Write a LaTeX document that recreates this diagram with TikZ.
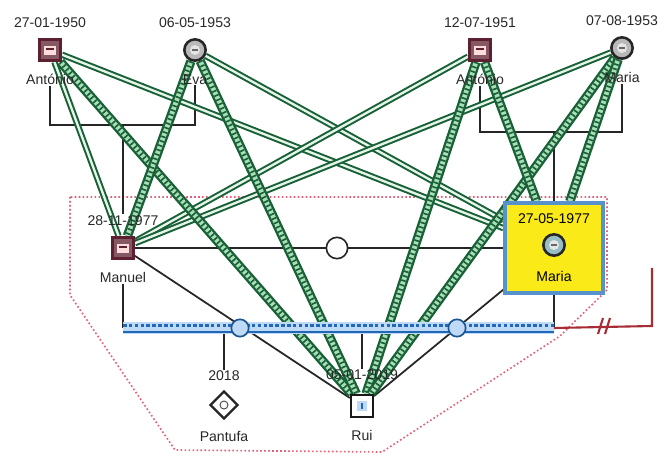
\documentclass[tikz,border=0pt]{standalone}
\usepackage{fontspec}
\setmainfont{Liberation Sans}
\usetikzlibrary{positioning,shapes.geometric,backgrounds}
\definecolor{tiegreen}{RGB}{24,96,54}
\definecolor{tiepale}{RGB}{170,222,184}
\definecolor{famblue}{RGB}{34,104,184}
\definecolor{famlight}{RGB}{190,218,246}
\definecolor{boxblue}{RGB}{86,146,204}
\definecolor{boxyellow}{RGB}{250,234,24}
\definecolor{maroonish}{RGB}{92,32,48}
\definecolor{dotred}{RGB}{226,96,120}
\definecolor{cutred}{RGB}{168,44,52}
\definecolor{txt}{RGB}{40,40,40}

\begin{document}
\begin{tikzpicture}[x=.03cm,y=-.03cm,font=\fontsize{12}{14}\selectfont,text=txt]
\tikzstyle{lbl}=[inner sep=.5pt]
\tikzstyle{male}=[rectangle,draw=maroonish,line width=2.2pt,fill=maroonish!75,minimum size=6.4mm,inner sep=0pt,
  path picture={\fill[pink!55] ([shift={(-1.7mm,-1.4mm)}]path picture bounding box.center) rectangle ++(3.4mm,2.6mm);
  \fill[maroonish] ([shift={(-1.1mm,-.1mm)}]path picture bounding box.center) rectangle ++(2.2mm,.6mm);}]
\tikzstyle{female}=[circle,draw=black!85,line width=2.2pt,fill=gray!55,minimum size=6.4mm,inner sep=0pt,
  path picture={\fill[white!80!gray] (path picture bounding box.center) circle (1.5mm);
  \fill[black!60] ([shift={(-.9mm,-.3mm)}]path picture bounding box.center) rectangle ++(1.8mm,.6mm);}]
\tikzstyle{kid}=[rectangle,draw=black!90,line width=2pt,fill=white,minimum size=6.6mm,inner sep=0pt,
  path picture={\fill[famlight] ([shift={(-1.5mm,-1.5mm)}]path picture bounding box.center) rectangle ++(3mm,3mm);
  \fill[famblue] ([shift={(-.4mm,-1mm)}]path picture bounding box.center) rectangle ++(.8mm,2mm);}]
\tikzstyle{pet}=[diamond,draw=black!85,line width=2pt,fill=white,minimum size=8.4mm,inner sep=0pt,
  path picture={\draw[black!70,line width=.8pt] (path picture bounding box.center) circle (1.2mm);}]
\tikzstyle{hilite}=[rectangle,draw=boxblue,line width=2.6pt,fill=boxyellow,minimum width=29.4mm,minimum height=27mm]
\tikzstyle{knot}=[circle,draw=black!85,line width=1.4pt,fill=white,minimum size=6.4mm,inner sep=0pt]
\tikzstyle{rel}=[draw=black!85,line width=1.5pt]
\tikzstyle{tie}=[draw=tiegreen,line width=5.4pt,postaction={draw=white!70!tiepale,line width=2pt}]
\tikzstyle{hatch}=[draw=tiegreen,line width=8pt,postaction={draw=tiepale,line width=4pt},
  postaction={draw=tiegreen,line width=4pt,dash pattern=on 1.4pt off 2.6pt}]
\tikzstyle{famline}=[draw=famlight,line width=9.5pt,
  postaction={draw=famblue,line width=2.4pt,dash pattern=on 3pt off 2pt,transform canvas={yshift=2pt}},
  postaction={draw=famblue,line width=2.4pt,transform canvas={yshift=-3.4pt}}]
\tikzstyle{cutline}=[draw=cutred,line width=1.8pt]
\tikzstyle{dotline}=[draw=dotred,line width=1.4pt,dotted]
\useasboundingbox (0,0) rectangle (668,457);

% grandparents
\node[male] (ant1) at (50,50) {};
\node[female] (eva) at (195,50) {};
\node[male] (ant2) at (480,50) {};
\node[female] (marg) at (622,48) {};
\node[lbl,above=3mm of ant1] (ant1d) {27-01-1950};
\node[lbl,below=3.5mm of ant1] (ant1n) {António};
\node[lbl,above=3mm of eva] (evad) {06-05-1953};
\node[lbl,below=3.5mm of eva] (evan) {Eva};
\node[lbl,above=3mm of ant2] (ant2d) {12-07-1951};
\node[lbl,below=3.5mm of ant2] (ant2n) {António};
\node[lbl,above=3mm of marg] (margd) {07-08-1953};
\node[lbl,below=3.5mm of marg] (margn) {Maria};

% couple
\node[male] (man) at (123,248) {};
\node[lbl,above=3mm of man] (mand) {28-11-1977};
\node[lbl,below=3.5mm of man] (mann) {Manuel};
\node[hilite] (box) at (554,248) {};
\node[female,fill={rgb,255:red,150;green,190;blue,196}] (mar) at (554,245) {};
\node[lbl,above=2.5mm of mar,text=black] (mard) {27-05-1977};
\node[lbl,below=4mm of mar,text=black] (marn) {Maria};
\node[knot] (k0) at (337,248) {};

% children
\node[kid] (rui) at (362,406) {};
\node[lbl,above=4mm of rui] (ruid) {05-01-2019};
\node[lbl,below=3.5mm of rui] (ruin) {Rui};
\node[pet] (pan) at (224,405) {};
\node[lbl,above=2.5mm of pan] (pand) {2018};
\node[lbl,below=3mm of pan] (pann) {Pantufa};
\node[knot,draw=famblue!80!black,fill=famlight,minimum size=5.2mm] (k1) at (240,328) {};
\node[knot,draw=famblue!80!black,fill=famlight,minimum size=5.2mm] (k2) at (457,328) {};

\coordinate (c1l) at (50,125); \coordinate (c1r) at (195,125); \coordinate (c1m) at (123,125);
\coordinate (c2l) at (480,132); \coordinate (c2r) at (622,132); \coordinate (c2m) at (554,132);
\coordinate (fl) at (123,328); \coordinate (fr) at (554,328);
\coordinate (pt) at (224,328); \coordinate (rt) at (362,328);
\coordinate (ex) at (652,326); \coordinate (exu) at (652,268); \coordinate (cut) at (602,326);

\begin{scope}[on background layer]
\draw[dotline] (70,197) -- (70,295) -- (175,450) -- (382,452) -- (560,336) -- (607,290) -- (607,197) -- cycle;
% family lines
\draw[rel] (ant1n) -- (c1l) -- (c1r) -- (evan);
\draw[rel] (c1m) -- (mand);
\draw[rel] (ant2n) -- (c2l) -- (c2r) -- (margn);
\draw[rel] (c2m) -- (box);
\draw[rel] (man) -- (k0) -- (box);
\draw[rel] (mann) -- (fl); \draw[rel] (box) -- (fr);
\draw[rel] (pt) -- (pand); \draw[rel] (rt) -- (ruid);
\draw[rel] (man) -- (rui); \draw[rel] (box) -- (rui);
% emotional ties
\draw[tie] (ant1) -- (man); \draw[tie] (ant1) -- (box); \draw[tie] (eva) -- (box);
\draw[tie] (ant2) -- (man); \draw[tie] (marg) -- (man);
\draw[hatch] (ant1) -- (rui); \draw[hatch] (eva) -- (rui); \draw[hatch] (eva) -- (man);
\draw[hatch] (ant2) -- (rui); \draw[hatch] (marg) -- (rui);
\draw[hatch] (ant2) -- (box); \draw[hatch] (marg) -- (box);
\draw[famline] (fl) -- (fr);
\draw[cutline] (fr) -- (ex) -- (exu);
\draw[cutline] ([shift={(-4,8)}]cut) -- ([shift={(1,-8)}]cut);
\draw[cutline] ([shift={(3,8)}]cut) -- ([shift={(8,-8)}]cut);
\end{scope}
\end{tikzpicture}
\end{document}
